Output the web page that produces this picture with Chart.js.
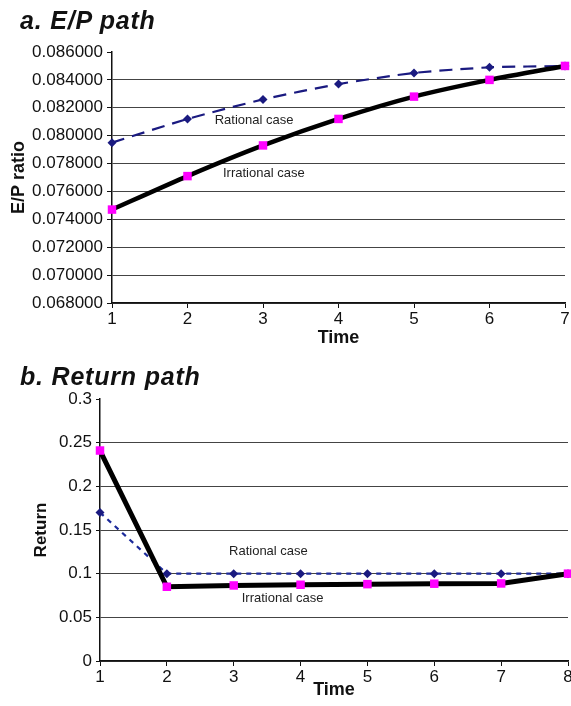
<!DOCTYPE html>
<html>
<head>
<meta charset="utf-8">
<script src="https://cdn.jsdelivr.net/npm/chart.js@4.4.1/dist/chart.umd.min.js"></script>
<style>
    html, body { margin: 0; padding: 0; background: #fff; overflow: hidden; width: 571px; height: 706px; }
    .panel-title {
        position: absolute; left: 20px; margin: 0;
        font: italic bold 25px/25px "Liberation Sans", Arial, sans-serif;
        letter-spacing: 0.8px; color: #111; z-index: 2;
    }
    canvas { position: absolute; left: 0; }
</style>
</head>
<body>
<h2 class="panel-title" style="top:8px">a. E/P path</h2>
<canvas id="epChart" width="571" height="350" style="top:0"></canvas>
<h2 class="panel-title" style="top:364px">b. Return path</h2>
<canvas id="returnChart" width="574" height="356" style="top:350px"></canvas>

<script>
// --- chart data ---
const epTime = [1, 2, 3, 4, 5, 6, 7];
const epRational = [0.0795, 0.0812, 0.0826, 0.0837, 0.0845, 0.0849, 0.0850];
const epIrrational = [0.0747, 0.0771, 0.0793, 0.0812, 0.0828, 0.0840, 0.0850];
const epTicks = [0.068, 0.070, 0.072, 0.074, 0.076, 0.078, 0.080, 0.082, 0.084, 0.086];

const retTime = [1, 2, 3, 4, 5, 6, 7, 8];
const retRational = [0.17, 0.10, 0.10, 0.10, 0.10, 0.10, 0.10, 0.10];
const retIrrational = [0.241, 0.085, 0.0865, 0.0873, 0.088, 0.0885, 0.0888, 0.10];
const retTicks = [0, 0.05, 0.1, 0.15, 0.2, 0.25, 0.3];

const FONT = '"Liberation Sans", Arial, Helvetica, sans-serif';
const NAVY = '#1a1a80';
const MAGENTA = '#ff00ff';

// small text labels placed at data coordinates
const caseLabels = {
    id: 'caseLabels',
    afterDatasetsDraw(chart, args, opts) {
        const { ctx, scales: { x, y } } = chart;
        ctx.save();
        ctx.font = '13px ' + FONT;
        ctx.fillStyle = '#222';
        ctx.textBaseline = 'middle';
        opts.items.forEach(it => {
            ctx.fillText(it.text, x.getPixelForValue(it.x), y.getPixelForValue(it.y));
        });
        ctx.restore();
    }
};

function pairs(xs, ys) {
    return xs.map((t, i) => ({ x: t, y: ys[i] }));
}

function buildChart(canvasId, cfg) {
    const ctx = document.getElementById(canvasId).getContext('2d');
    const yMax = cfg.yTicks[cfg.yTicks.length - 1];
    return new Chart(ctx, {
        type: 'line',
        data: {
            datasets: [
                {
                    label: 'Irrational case',
                    data: pairs(cfg.time, cfg.irrational),
                    borderColor: '#000',
                    borderWidth: cfg.irrWidth,
                    tension: cfg.tension,
                    pointStyle: 'rect',
                    pointRadius: 6,
                    pointBackgroundColor: MAGENTA,
                    pointBorderColor: MAGENTA,
                    pointBorderWidth: 0,
                    clip: false,
                    order: 0
                },
                {
                    label: 'Rational case',
                    data: pairs(cfg.time, cfg.rational),
                    borderColor: cfg.ratColor,
                    borderWidth: cfg.ratWidth,
                    borderDash: cfg.ratDash,
                    tension: cfg.tension,
                    pointStyle: 'rectRot',
                    pointRadius: 4.5,
                    pointBackgroundColor: NAVY,
                    pointBorderColor: NAVY,
                    pointBorderWidth: 0,
                    clip: false,
                    order: 1
                }
            ]
        },
        options: {
            responsive: false,
            animation: false,
            events: [],
            layout: { padding: { top: cfg.padTop, right: 6, bottom: 0, left: 0 } },
            plugins: {
                legend: { display: false },
                tooltip: { enabled: false },
                caseLabels: { items: cfg.labels }
            },
            scales: {
                x: {
                    type: 'linear',
                    min: cfg.time[0],
                    max: cfg.time[cfg.time.length - 1],
                    afterBuildTicks: s => { s.ticks = cfg.time.map(v => ({ value: v })); },
                    afterFit: s => { s.height = cfg.xHeight; },
                    grid: { drawOnChartArea: false, drawTicks: true, tickLength: 5, tickColor: '#111' },
                    border: { color: '#111', width: 1.5 },
                    ticks: { color: '#111', padding: 1, font: { family: FONT, size: 17 }, callback: v => String(v) },
                    title: { display: true, text: 'Time', color: '#111', padding: { top: 0, bottom: cfg.xTitlePad }, font: { family: FONT, size: 18, weight: 'bold' } }
                },
                y: {
                    min: cfg.yTicks[0],
                    max: yMax,
                    afterBuildTicks: s => { s.ticks = cfg.yTicks.map(v => ({ value: v })); },
                    afterFit: s => { s.width = cfg.yWidth; },
                    grid: {
                        color: c => (c.tick && Math.abs(c.tick.value - yMax) < 1e-9) ? 'rgba(0,0,0,0)' : '#444',
                        lineWidth: 1,
                        tickLength: cfg.yTickLen,
                        tickColor: '#111'
                    },
                    border: { color: '#111', width: 1.5 },
                    ticks: { color: '#111', padding: 4, font: { family: FONT, size: 17 }, callback: cfg.yFormat },
                    title: { display: true, text: cfg.yTitle, color: '#111', padding: { top: cfg.yTitlePad, bottom: 0 }, font: { family: FONT, size: cfg.yTitleSize, weight: 'bold' } }
                }
            }
        },
        plugins: [caseLabels]
    });
}

buildChart('epChart', {
    time: epTime,
    rational: epRational,
    irrational: epIrrational,
    yTicks: epTicks,
    yFormat: v => Number(v).toFixed(6),
    yTitle: 'E/P ratio',
    yTitleSize: 18,
    yTitlePad: 8,
    yWidth: 112,
    yTickLen: 5,
    padTop: 52,
    xHeight: 47,
    xTitlePad: 1,
    tension: 0.2,
    irrWidth: 4.5,
    ratWidth: 2.2,
    ratColor: NAVY,
    ratDash: [13, 8],
    labels: [
        { text: 'Rational case', x: 2.36, y: 0.08112 },
        { text: 'Irrational case', x: 2.47, y: 0.07732 }
    ]
});

buildChart('returnChart', {
    time: retTime,
    rational: retRational,
    irrational: retIrrational,
    yTicks: retTicks,
    yFormat: v => String(+Number(v).toFixed(2)),
    yTitle: 'Return',
    yTitleSize: 17,
    yTitlePad: 31,
    yWidth: 100,
    yTickLen: 4,
    padTop: 49,
    xHeight: 45,
    xTitlePad: 5,
    tension: 0,
    irrWidth: 5,
    ratWidth: 2.2,
    ratColor: '#1c2a9a',
    ratDash: [5, 5],
    labels: [
        { text: 'Rational case', x: 2.93, y: 0.126 },
        { text: 'Irrational case', x: 3.12, y: 0.072 }
    ]
});
</script>
</body>
</html>
